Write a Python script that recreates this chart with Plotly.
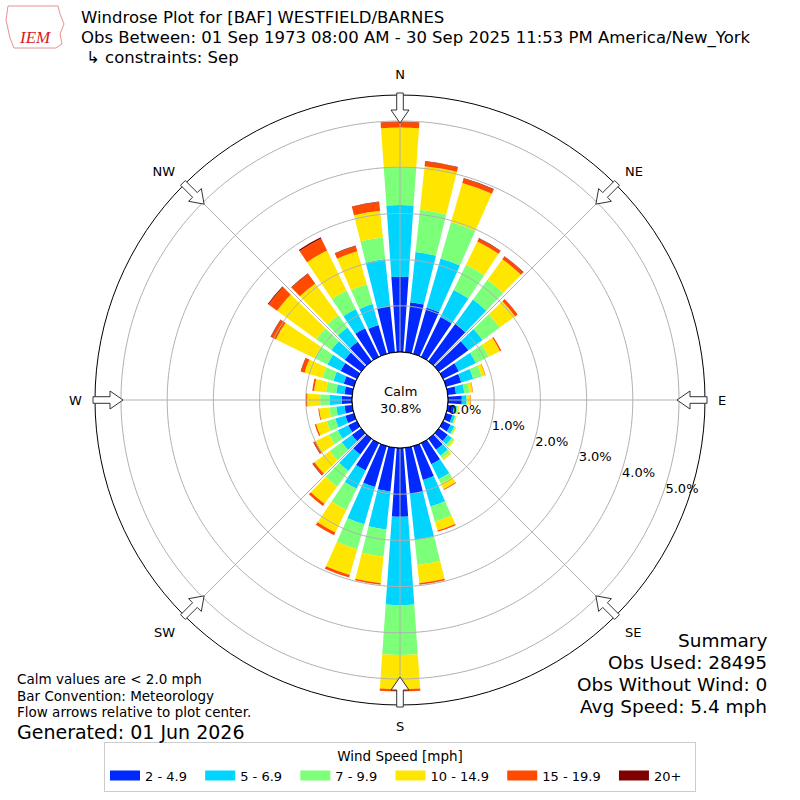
import numpy as np
import plotly.graph_objects as go

# Wind direction bins (degrees, meteorological convention)
directions = [0, 10, 20, 30, 40, 50, 60, 70, 80, 90, 100, 110,
              120, 130, 140, 150, 160, 170, 180, 190, 200, 210, 220, 230,
              240, 250, 260, 270, 280, 290, 300, 310, 320, 330, 340, 350]

speed_labels = ['2 - 4.9', '5 - 6.9', '7 - 9.9', '10 - 14.9', '15 - 19.9', '20+']
speed_colors = ['#0028ff', '#00d4ff', '#7cff79', '#ffe600', '#ff4a00', '#7f0000']

# frequency [%] of each speed bin per direction
pct_2_5 = [1.63, 1.09, 1.04, 0.96, 1.00, 0.79, 0.38, 0.34, 0.18, 0.30, 0.14, 0.14,
           0.18, 0.24, 0.29, 0.51, 0.76, 1.01, 1.49, 0.95, 0.92, 0.66, 0.42, 0.25,
           0.21, 0.19, 0.17, 0.22, 0.17, 0.23, 0.39, 0.44, 0.52, 0.69, 0.65, 1.00]
pct_5_7 = [1.55, 1.09, 1.11, 0.65, 0.65, 0.38, 0.41, 0.27, 0.18, 0.10, 0.06, 0.06,
           0.09, 0.11, 0.16, 0.36, 0.60, 0.99, 1.91, 0.83, 0.84, 0.44, 0.44, 0.27,
           0.25, 0.23, 0.18, 0.26, 0.18, 0.23, 0.32, 0.36, 0.38, 0.46, 0.47, 1.03]
pct_7_10 = [0.82, 0.92, 0.82, 0.61, 0.53, 0.46, 0.31, 0.19, 0.11, 0.03, 0.02, 0.02,
            0.03, 0.05, 0.07, 0.11, 0.34, 0.55, 1.08, 0.59, 0.56, 0.51, 0.42, 0.32,
            0.21, 0.19, 0.15, 0.21, 0.22, 0.25, 0.31, 0.40, 0.33, 0.45, 0.45, 0.47]
pct_10_15 = [0.86, 0.95, 0.88, 0.56, 0.55, 0.41, 0.27, 0.08, 0.07, 0.06, 0.03, 0.02,
             0.02, 0.03, 0.05, 0.13, 0.20, 0.40, 0.74, 0.58, 0.58, 0.54, 0.46, 0.41,
             0.33, 0.24, 0.22, 0.28, 0.26, 0.40, 0.93, 1.05, 0.85, 0.96, 0.74, 0.58]
pct_15_20 = [0.12, 0.10, 0.10, 0.07, 0.07, 0.07, 0.03, 0.01, 0.01, 0.01, 0.00, 0.00,
             0.00, 0.00, 0.00, 0.02, 0.03, 0.03, 0.05, 0.03, 0.06, 0.07, 0.06, 0.05,
             0.04, 0.03, 0.02, 0.03, 0.04, 0.08, 0.12, 0.23, 0.26, 0.29, 0.12, 0.19]
pct_20p = [0.01, 0.01, 0.01, 0.01, 0.01, 0.00, 0.00, 0.00, 0.00, 0.00, 0.00, 0.00,
           0.00, 0.00, 0.00, 0.00, 0.00, 0.00, 0.00, 0.00, 0.00, 0.00, 0.00, 0.01,
           0.01, 0.00, 0.00, 0.00, 0.00, 0.01, 0.01, 0.02, 0.01, 0.03, 0.01, 0.01]

calm_pct = 30.8
radial_ticks = [0, 1, 2, 3, 4, 5]

FONT = 'DejaVu Sans'
W = H = 800
CX, CY, R_OUT, R_HOLE = 400, 400, 305, 48
R_MAX = (R_OUT - R_HOLE) / 46.2
NBSP = '\u00a0'

fig = go.Figure()

series = [pct_2_5, pct_5_7, pct_7_10, pct_10_15, pct_15_20, pct_20p]
for vals, label, color in zip(series, speed_labels, speed_colors):
    fig.add_trace(go.Barpolar(
        r=vals, theta=directions, width=8, name=label, legendgroup=label,
        showlegend=False, marker=dict(color=color, line=dict(width=0)),
        hoverinfo='skip'))
    # legend-only entry so the swatch is a flat rectangle like the original
    fig.add_trace(go.Scatter(x=[None], y=[None], mode='lines', name=label + NBSP * 2,
                             legendgroup=label, line=dict(color=color, width=10)))

# grid drawn on top of the bars like the original
ring_theta = np.linspace(0, 360, 361)
for rv in radial_ticks[1:]:
    fig.add_trace(go.Scatterpolar(r=[rv] * len(ring_theta), theta=ring_theta, mode='lines',
                                  line=dict(color='#b0b0b0', width=1), showlegend=False,
                                  hoverinfo='skip'))
for a in range(0, 360, 45):
    fig.add_trace(go.Scatterpolar(r=[0, R_MAX], theta=[a, a], mode='lines',
                                  line=dict(color='#b0b0b0', width=1), showlegend=False,
                                  hoverinfo='skip'))
# calm circle edge
fig.add_trace(go.Scatterpolar(r=[0] * len(ring_theta), theta=ring_theta, mode='lines',
                              line=dict(color='black', width=1), showlegend=False,
                              hoverinfo='skip'))


def to_paper(x, y):
    return x / W, 1 - y / H


# hollow flow arrows at the compass points, pointing to the center
shapes = []
for a in range(0, 360, 45):
    t = np.radians(a)
    ux, uy = np.sin(t), -np.cos(t)
    vx, vy = np.cos(t), np.sin(t)
    pts = [(277, 0), (290, 9), (290, 3.3), (307, 3.3), (307, -3.3), (290, -3.3), (290, -9)]
    path = ''
    for i, (rr, off) in enumerate(pts):
        x, y = to_paper(CX + rr * ux + off * vx, CY + rr * uy + off * vy)
        path += ('M' if i == 0 else 'L') + f'{x:.5f},{y:.5f} '
    shapes.append(dict(type='path', path=path + 'Z', xref='paper', yref='paper',
                       fillcolor='white', line=dict(color='#333333', width=1)))

# rough IEM logo outline
logo = [(8, 6), (58, 6), (60, 14), (64, 24), (60, 34), (62, 44), (56, 48), (14, 48), (10, 38), (6, 20)]
lp = ''
for i, (x, y) in enumerate(logo):
    px_, py_ = to_paper(x, y)
    lp += ('M' if i == 0 else 'L') + f'{px_:.5f},{py_:.5f} '
shapes.append(dict(type='path', path=lp + 'Z', xref='paper', yref='paper',
                   line=dict(color='#e89090', width=1)))

annotations = []


def add_text(x, y, text, size, xanchor='left', color='black', family=FONT):
    px_, py_ = to_paper(x, y)
    annotations.append(dict(x=px_, y=py_, xref='paper', yref='paper', text=text,
                            showarrow=False, xanchor=xanchor, yanchor='middle',
                            borderpad=0,
                            font=dict(family=family, size=size, color=color)))


add_text(80, 18, 'Windrose Plot for [BAF] WESTFIELD/BARNES', 16.5)
add_text(80, 37.5, 'Obs Between: 01 Sep 1973 08:00 AM - 30 Sep 2025 11:53 PM America/New_York', 16.5)
add_text(85, 57, '↳ constraints: Sep', 16.5)
add_text(35, 38, '<i>IEM</i>', 17, xanchor='center', color='#d42020', family='Liberation Serif')
add_text(400, 400, f'Calm<br>{calm_pct}%', 13, xanchor='center')
add_text(16, 679, 'Calm values are < 2.0 mph', 13.5)
add_text(16, 695.5, 'Bar Convention: Meteorology', 13.5)
add_text(16, 712, 'Flow arrows relative to plot center.', 13.5)
add_text(16, 731.5, 'Generated: 01 Jun 2026', 19)
add_text(768, 640, 'Summary', 18.5, xanchor='right')
add_text(768, 662, 'Obs Used: 28495', 18.5, xanchor='right')
add_text(768, 684, 'Obs Without Wind: 0', 18.5, xanchor='right')
add_text(768, 706, 'Avg Speed: 5.4 mph', 18.5, xanchor='right')

dom = [(CX - R_OUT) / W, (CX + R_OUT) / W]
fig.update_layout(
    width=W, height=H,
    margin=dict(l=0, r=0, t=0, b=0),
    paper_bgcolor='white',
    plot_bgcolor='rgba(0,0,0,0)',
    font=dict(family=FONT, size=13, color='black'),
    xaxis=dict(visible=False),
    yaxis=dict(visible=False),
    polar=dict(
        domain=dict(x=dom, y=dom),
        hole=R_HOLE / R_OUT,
        bgcolor='white',
        barmode='stack',
        angularaxis=dict(rotation=90, direction='clockwise',
                         tickmode='array', tickvals=[0, 45, 90, 135, 180, 225, 270, 315],
                         ticktext=['N', 'NE', 'E', 'SE', 'S', 'SW', 'W', 'NW'],
                         showgrid=False, showline=True, linecolor='black', linewidth=1,
                         ticks='outside', ticklen=10, tickcolor='rgba(0,0,0,0)',
                         tickfont=dict(size=13)),
        radialaxis=dict(range=[0, R_MAX], angle=-20, tickangle=-20, side='counterclockwise',
                        tickmode='array', tickvals=radial_ticks,
                        ticktext=[f'{v:.1f}%' for v in radial_ticks],
                        showgrid=False, showline=False, ticks='',
                        tickfont=dict(size=13)),
    ),
    legend=dict(orientation='h', x=0.5, xanchor='center', y=(H - 742) / H, yanchor='top',
                title=dict(text='Wind Speed [mph]', side='top center', font=dict(size=13.5)),
                bordercolor='#cccccc', borderwidth=1, font=dict(size=13),
                itemwidth=30, traceorder='normal'),
    shapes=shapes,
    annotations=annotations,
)

# drop the default page margin so the figure sits at the window's top-left corner
fig.write_html('out.html', config={'displayModeBar': False},
               post_script="document.body.style.margin='0';")
